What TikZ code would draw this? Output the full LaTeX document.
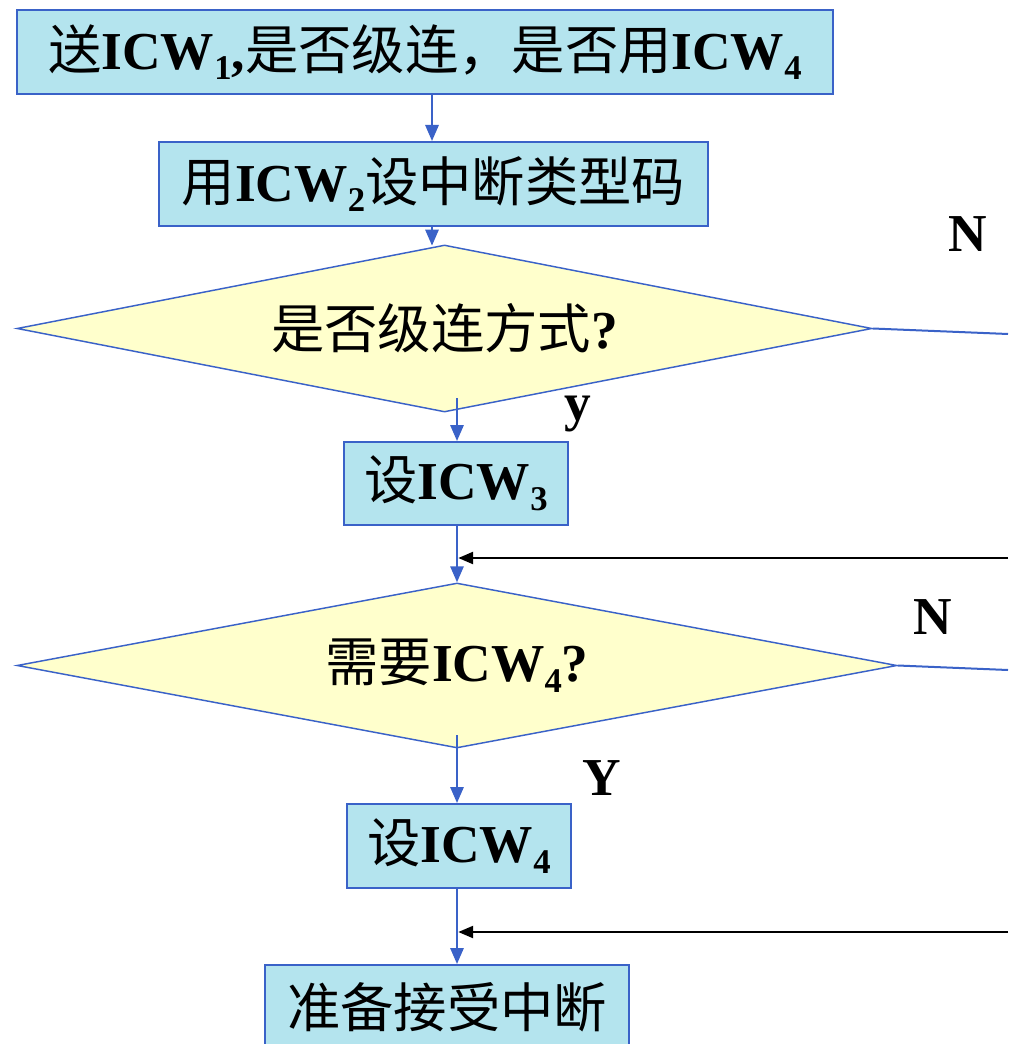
\documentclass[tikz,border=0pt]{standalone}
\usepackage{fontspec}
\setmainfont{Liberation Serif}
\newfontfamily\cjk{Noto Sans CJK SC}
\usetikzlibrary{shapes.geometric,arrows.meta}
\definecolor{boxfill}{RGB}{180,228,238}
\definecolor{dfill}{RGB}{255,255,204}
\definecolor{edge}{RGB}{58,98,200}
\newcommand\zh[1]{{\cjk\mdseries #1}}
\newcommand\lsub[1]{\raisebox{-8pt}{\fontsize{26}{26}\selectfont #1}}
\tikzset{
  box/.style={draw=edge, fill=boxfill, line width=1.5pt, inner sep=0pt,
    font=\fontsize{40}{48}\selectfont\bfseries},
  dec/.style={diamond, draw=edge, fill=dfill, line width=1.1pt, inner sep=0pt,
    font=\fontsize{40}{48}\selectfont\bfseries},
  flow/.style={draw=edge, line width=1.5pt, -{Triangle[length=12pt,width=10pt]}},
  plain/.style={draw=edge, line width=1.5pt},
  back/.style={draw=black, line width=1.4pt, -{Triangle[length=11pt,width=9pt]}},
  lbl/.style={font=\fontsize{40}{48}\selectfont\bfseries, inner sep=0pt}
}
\begin{document}
\begin{tikzpicture}[x=0.75pt,y=-0.75pt]
\useasboundingbox (0,0) rectangle (1008,1044);
% boxes
\node[box, minimum width=612pt, minimum height=63pt] (b1) at (425,52)
  {\zh{送}ICW\lsub{1},\zh{是否级连，是否用}ICW\lsub{4}};
\node[box, minimum width=411.75pt, minimum height=63pt] (b2) at (433.5,184)
  {\zh{用}ICW\lsub{2}\zh{设中断类型码}};
\node[dec, aspect=5.1, minimum width=641.25pt, minimum height=125.25pt] (d1) at (444.5,328.5)
  {\zh{是否级连方式}?};
\node[box, minimum width=168pt, minimum height=62.25pt] (b3) at (456,483.5)
  {\zh{设}ICW\lsub{3}};
\node[dec, aspect=5.33, minimum width=660pt, minimum height=123.75pt] (d2) at (457,665.5)
  {\zh{需要}ICW\lsub{4}?};
\node[box, minimum width=168pt, minimum height=63pt] (b4) at (459,846)
  {\zh{设}ICW\lsub{4}};
\node[box, minimum width=273pt, minimum height=63pt] (b5) at (447,1007)
  {\zh{准备接受中断}};
% labels
\node[lbl] (n1) at (968,234) {N};
\node[lbl] (ly) at (578,414) {y};
\node[lbl] (n2) at (933,617) {N};
\node[lbl] (lY) at (602,778) {Y};
% free ends
\coordinate (e1) at (1008,334);
\coordinate (e2) at (1008,670);
\coordinate (r1) at (1008,558);
\coordinate (r2) at (1008,932);
\coordinate (t1) at (432,226);
\coordinate (s1) at (457,398);
\coordinate (s2) at (457,735);
% connectors
\draw[flow] (b1.south -| t1) -- (b2.north -| t1);
\draw[flow] (t1) -- ([yshift=-1pt]t1 |- d1.north);
\draw[plain] (d1.east) -- (e1);
\draw[flow] (s1) -- (s1 |- b3.north);
\draw[flow] (s1 |- b3.south) -- (s1 |- d2.north);
\draw[back] (r1) -- ([xshift=1pt]s1 |- r1);
\draw[plain] (d2.east) -- (e2);
\draw[flow] (s2) -- (s2 |- b4.north);
\draw[flow] (s2 |- b4.south) -- (s2 |- b5.north);
\draw[back] (r2) -- ([xshift=1pt]s2 |- r2);
\end{tikzpicture}
\end{document}
